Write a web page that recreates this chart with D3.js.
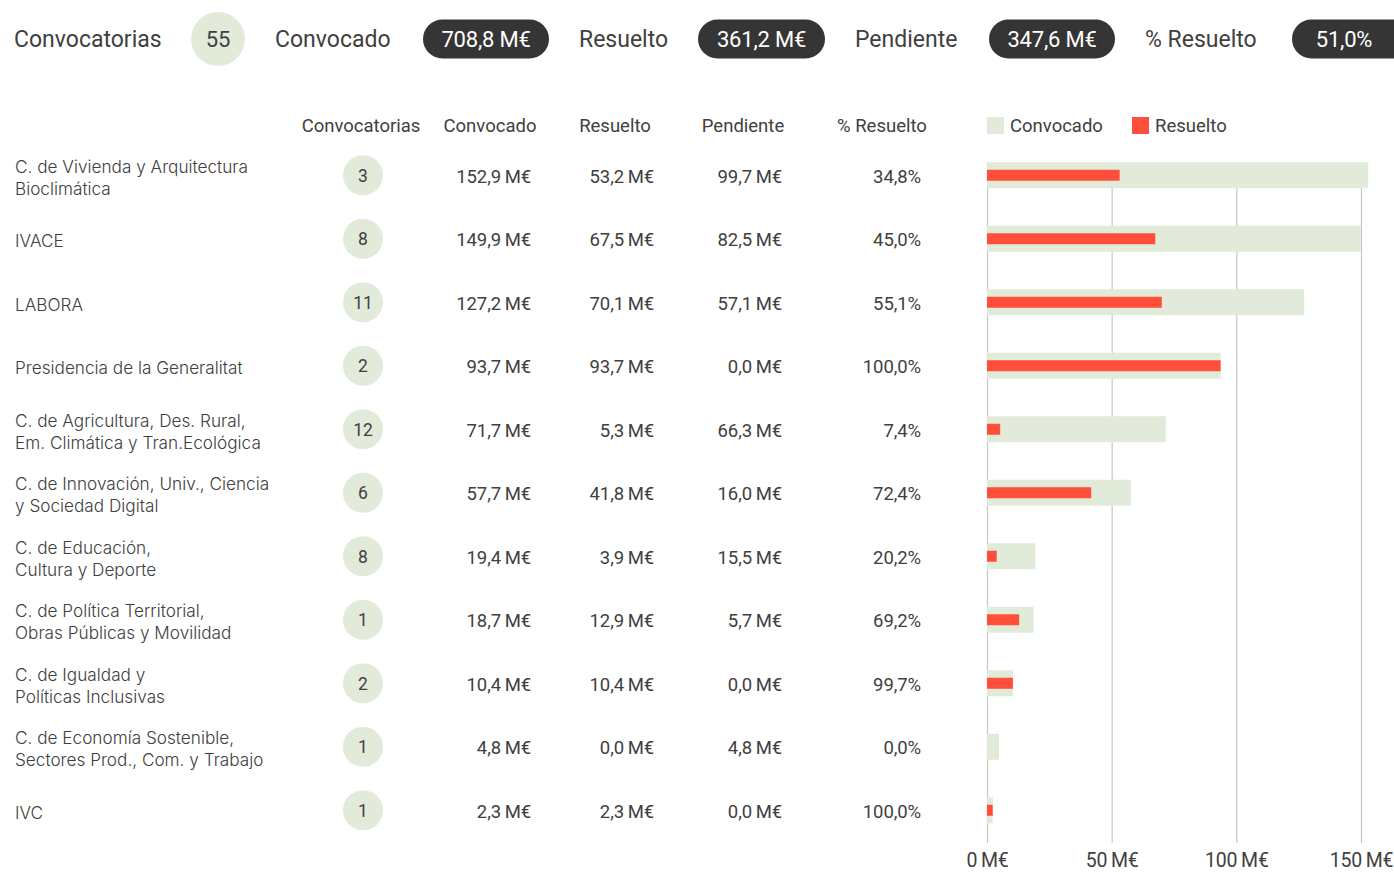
<!DOCTYPE html>
<html><head><meta charset="utf-8">
<script src="https://cdn.jsdelivr.net/npm/d3@7"></script>
<style>
html,body{margin:0;padding:0;background:#fff;}
svg{display:block;}
text{font-family:Roboto,"Noto Sans",sans-serif;fill:#404040;}
</style></head><body>
<svg id="chart" width="1394" height="872"></svg>
<script>
const names = [
  ["C. de Vivienda y Arquitectura","Bioclimática"],
  ["IVACE"],
  ["LABORA"],
  ["Presidencia de la Generalitat"],
  ["C. de Agricultura, Des. Rural,","Em. Climática y Tran.Ecológica"],
  ["C. de Innovación, Univ., Ciencia","y Sociedad Digital"],
  ["C. de Educación,","Cultura y Deporte"],
  ["C. de Política Territorial,","Obras Públicas y Movilidad"],
  ["C. de Igualdad y","Políticas Inclusivas"],
  ["C. de Economía Sostenible,","Sectores Prod., Com. y Trabajo"],
  ["IVC"]
];
const convocatorias = [3, 8, 11, 2, 12, 6, 8, 1, 2, 1, 1];
const convocado = [152.9, 149.9, 127.2, 93.7, 71.7, 57.7, 19.4, 18.7, 10.4, 4.8, 2.3];
const resuelto  = [53.2, 67.5, 70.1, 93.7, 5.3, 41.8, 3.9, 12.9, 10.4, 0.0, 2.3];
const pendiente = [99.7, 82.5, 57.1, 0.0, 66.3, 16.0, 15.5, 5.7, 0.0, 4.8, 0.0];
const pctResuelto = [34.8, 45.0, 55.1, 100.0, 7.4, 72.4, 20.2, 69.2, 99.7, 0.0, 100.0];
const totalLabels = ["Convocatorias","Convocado","Resuelto","Pendiente","% Resuelto"];
const totalValues = ["55","708,8 M€","361,2 M€","347,6 M€","51,0%"];
const columnHeaders = ["Convocatorias","Convocado","Resuelto","Pendiente","% Resuelto"];
const legendLabels = ["Convocado","Resuelto"];
const xTicks = [0, 50, 100, 150];

const GREEN = "#e2ebd9", RED = "#ff4f3b", DARK = "#353535", TXT = "#404040";
const svg = d3.select("#chart");
const fmt = v => v.toFixed(1).replace(".", ",") + "\u2009M€";
const fmtPct = v => v.toFixed(1).replace(".", ",") + "%";

// ---- Header totals ----
const hdr = svg.append("g");
const labelX = [14, 275, 579, 855, 1145];
const pillX = [[191,245],[423,549],[698,825],[989,1115],[1292,1420]];
totalLabels.forEach((t,i)=>{
  hdr.append("text").attr("x",labelX[i]).attr("y",39).attr("dy","0.35em")
    .attr("font-size",23).attr("letter-spacing","0").text(t);
  const [a,b] = pillX[i];
  if(i===0){
    hdr.append("circle").attr("cx",(a+b)/2).attr("cy",39).attr("r",27).attr("fill",GREEN);
    hdr.append("text").attr("x",(a+b)/2).attr("y",39).attr("dy","0.35em").attr("text-anchor","middle")
      .attr("font-size",22).text(totalValues[i]);
  } else {
    hdr.append("rect").attr("x",a).attr("y",19.5).attr("width",b-a).attr("height",39).attr("rx",19.5).attr("fill",DARK);
    const cx = i===4 ? 1344 : (a+b)/2;
    hdr.append("text").attr("x",cx).attr("y",39).attr("dy","0.35em").attr("text-anchor","middle")
      .attr("font-size",22).attr("letter-spacing","-0.2").style("fill","#fff").text(totalValues[i]);
  }
});

// ---- Column headers ----
const colX = [361, 490, 615, 743, 882];
columnHeaders.forEach((t,i)=>{
  svg.append("text").attr("x",colX[i]).attr("y",125.5).attr("dy","0.35em").attr("text-anchor","middle")
    .attr("font-size",18.5).attr("letter-spacing","0").text(t);
});

// ---- Legend ----
const legX = [987, 1132];
const legColors = [GREEN, RED];
legendLabels.forEach((t,i)=>{
  svg.append("rect").attr("x",legX[i]).attr("y",117).attr("width",17).attr("height",17).attr("fill",legColors[i]);
  svg.append("text").attr("x",legX[i]+23).attr("y",125.5).attr("dy","0.35em").attr("font-size",18.5).text(t);
});

// ---- Scales ----
const y = d3.scaleBand().domain(d3.range(names.length)).range([143.5, 842]).paddingInner(0).paddingOuter(0);
const cy = i => y(i) + y.bandwidth()/2;
const x = d3.scaleLinear().domain([0,150]).range([987, 1361]);

// gridlines
const grid = svg.append("g");
grid.selectAll("line").data(xTicks).join("line")
  .attr("x1",d=>x(d)+0.5).attr("x2",d=>x(d)+0.5).attr("y1",162).attr("y2",843)
  .attr("stroke","#c6c6c6").attr("stroke-width",1.2);

// axis labels
const axis = d3.axisBottom(x).tickValues(xTicks).tickSize(0).tickPadding(0).tickFormat(d=>d+"\u2009M€");
const ax = svg.append("g").attr("transform","translate(0,0)").call(axis);
ax.select(".domain").remove();
ax.selectAll("text").attr("y",860).attr("dy","0.35em")
  .attr("font-size",19.5).attr("letter-spacing","-0.2").style("fill",TXT)
  .style("font-family","Roboto, sans-serif");

// rows
const rows = svg.append("g").selectAll("g").data(d3.range(names.length)).join("g");

// labels
rows.each(function(i){
  const g = d3.select(this);
  const lines = names[i];
  const t = g.append("text").attr("x",15).attr("font-size",17.2)
    .style("font-family","Inter, Roboto, sans-serif").style("font-weight",300);
  lines.forEach((ln,k)=>{
    const off = (k - (lines.length-1)/2) * 22 + 2.5;
    t.append("tspan").attr("x",15).attr("y",cy(i)+off).attr("dy","0.35em").text(ln);
  });
});

// count circles
rows.append("circle").attr("cx",363).attr("cy",i=>cy(i)).attr("r",20).attr("fill",GREEN);
rows.append("text").attr("x",363).attr("y",i=>cy(i)+0.5).attr("dy","0.35em").attr("text-anchor","middle")
  .attr("font-size",17.5).text(i=>convocatorias[i]);

// values
const valCols = [[convocado,531,fmt],[resuelto,654,fmt],[pendiente,782,fmt],[pctResuelto,921,fmtPct]];
valCols.forEach(([arr,xr,f])=>{
  rows.append("text").attr("x",xr).attr("y",i=>cy(i)+1).attr("dy","0.35em").attr("text-anchor","end")
    .attr("font-size",18.5).attr("letter-spacing","-0.1").text(i=>f(arr[i]));
});

// bars
rows.append("rect").attr("x",x(0)).attr("y",i=>cy(i)-13).attr("height",26)
  .attr("width",i=>x(convocado[i])-x(0)).attr("fill",GREEN);
rows.append("rect").attr("x",x(0)).attr("y",i=>cy(i)-5.5).attr("height",11)
  .attr("width",i=>x(resuelto[i])-x(0)).attr("fill",RED);
</script>
</body></html>
